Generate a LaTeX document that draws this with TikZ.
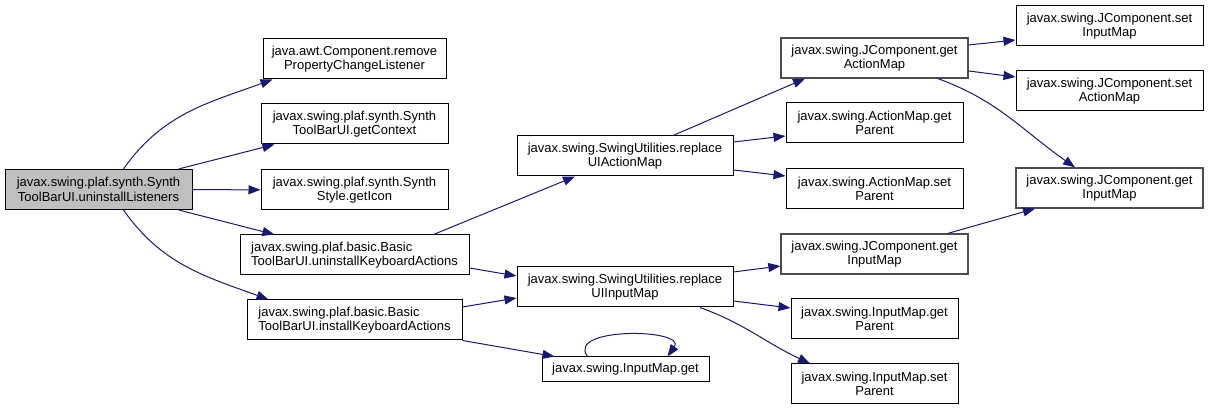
\documentclass[tikz,border=0pt]{standalone}
\usepackage{fontspec}
\setmainfont{Liberation Sans}
\usetikzlibrary{arrows.meta, positioning, calc}
\definecolor{cedge}{HTML}{191970}
\definecolor{croot}{HTML}{BFBFBF}
\definecolor{cframe}{HTML}{4D4D4D}
\tikzset{
  fnbox/.style={draw=black, fill=white, line width=1pt, minimum height=40pt,
                inner sep=2pt, align=center, font=\fontsize{13}{14.5}\selectfont},
  rootbox/.style={fnbox, fill=croot},
  hubbox/.style={fnbox, draw=cframe, line width=1.3pt},
  call/.style={-{Triangle[length=12pt,width=9pt]}, line width=1pt, cedge},
}

\begin{document}
\begin{tikzpicture}[x=1pt, y=1pt]
  \useasboundingbox (0,0) rectangle (1208,411);

  \node[rootbox, minimum width=187pt] (root) at (98.5, 221.5) {javax.swing.plaf.synth.Synth\\ToolBarUI.uninstallListeners};

  \node[fnbox, minimum width=183pt] (rpcl) at (354.5, 352) {java.awt.Component.remove\\PropertyChangeListener};
  \node[fnbox, minimum width=187pt] (gctx) at (354.5, 287) {javax.swing.plaf.synth.Synth\\ToolBarUI.getContext};
  \node[fnbox, minimum width=187pt] (gicon) at (354.5, 221) {javax.swing.plaf.synth.Synth\\Style.getIcon};
  \node[fnbox, minimum width=229pt, align=left] (ukbd) at (354.5, 156) {javax.swing.plaf.basic.Basic\\ToolBarUI.uninstallKeyboardActions};
  \node[fnbox, minimum width=215pt, align=left] (ikbd) at (354.5, 91) {javax.swing.plaf.basic.Basic\\ToolBarUI.installKeyboardActions};

  \node[fnbox, minimum width=216pt] (ruiam) at (625, 255) {javax.swing.SwingUtilities.replace\\UIActionMap};
  \node[fnbox, minimum width=216pt] (ruiim) at (625, 124) {javax.swing.SwingUtilities.replace\\UIInputMap};
  \node[fnbox, minimum width=167pt, minimum height=25pt] (imget) at (625.5, 41.5) {javax.swing.InputMap.get};

  \node[hubbox, minimum width=187pt] (jgam) at (874.5, 353) {javax.swing.JComponent.get\\ActionMap};
  \node[fnbox, minimum width=177pt] (amgp) at (874.5, 288) {javax.swing.ActionMap.get\\Parent};
  \node[fnbox, minimum width=177pt] (amsp) at (874.5, 222) {javax.swing.ActionMap.set\\Parent};
  \node[hubbox, minimum width=187pt] (jgim) at (874.5, 157) {javax.swing.JComponent.get\\InputMap};
  \node[fnbox, minimum width=167pt] (imgp) at (874.5, 92) {javax.swing.InputMap.get\\Parent};
  \node[fnbox, minimum width=167pt] (imsp) at (874.5, 27) {javax.swing.InputMap.set\\Parent};

  \node[fnbox, minimum width=187pt] (jsim) at (1109.5, 385) {javax.swing.JComponent.set\\InputMap};
  \node[fnbox, minimum width=187pt] (jsam) at (1109.5, 320) {javax.swing.JComponent.set\\ActionMap};
  \node[hubbox, minimum width=187pt] (jgimb) at (1109.5, 223) {javax.swing.JComponent.get\\InputMap};

  \draw[call] ([xshift=25pt]root.north) to[out=55,in=200] ([xshift=10pt]rpcl.south west);
  \draw[call] (root) -- (gctx);
  \draw[call] (root) -- (gicon);
  \draw[call] (root) -- (ukbd);
  \draw[call] ([xshift=25pt]root.south) to[out=-55,in=160] ([xshift=22pt]ikbd.north west);

  \draw[call] ([xshift=79pt]ukbd.north) -- ([xshift=-50pt]ruiam.south);
  \draw[call] ([yshift=-13pt]ukbd.east) -- ([yshift=11pt]ruiim.west);
  \draw[call] ([yshift=13pt]ikbd.east) -- ([yshift=-11pt]ruiim.west);
  \draw[call] (ikbd.south east) -- ([xshift=13pt]imget.north west);
  \draw[call] ([xshift=-38pt]imget.north) .. controls +(-22,30) and +(20,28) .. ([xshift=42pt]imget.north);

  \draw[call] ([xshift=48pt]ruiam.north) -- ([xshift=-69.5pt]jgam.south);
  \draw[call] ([yshift=14pt]ruiam.east) -- ([yshift=-13pt]amgp.west);
  \draw[call] ([yshift=-14pt]ruiam.east) -- ([yshift=13pt]amsp.west);
  \draw[call] ([yshift=15pt]ruiim.east) -- ([yshift=-12pt]jgim.west);
  \draw[call] ([yshift=-14pt]ruiim.east) -- ([yshift=11pt]imgp.west);
  \draw[call] ([xshift=75pt]ruiim.south) to[out=-20,in=155] ([xshift=-64.5pt]imsp.north);

  \draw[call] ([yshift=13pt]jgam.east) -- ([yshift=-14pt]jsim.west);
  \draw[call] ([yshift=-13pt]jgam.east) -- ([yshift=14pt]jsam.west);
  \draw[call] ([xshift=63.5pt]jgam.south) to[out=-20,in=145] ([xshift=-34.5pt]jgimb.north);
  \draw[call] ([xshift=73.5pt]jgim.north) -- ([xshift=-74.5pt]jgimb.south);
\end{tikzpicture}
\end{document}
